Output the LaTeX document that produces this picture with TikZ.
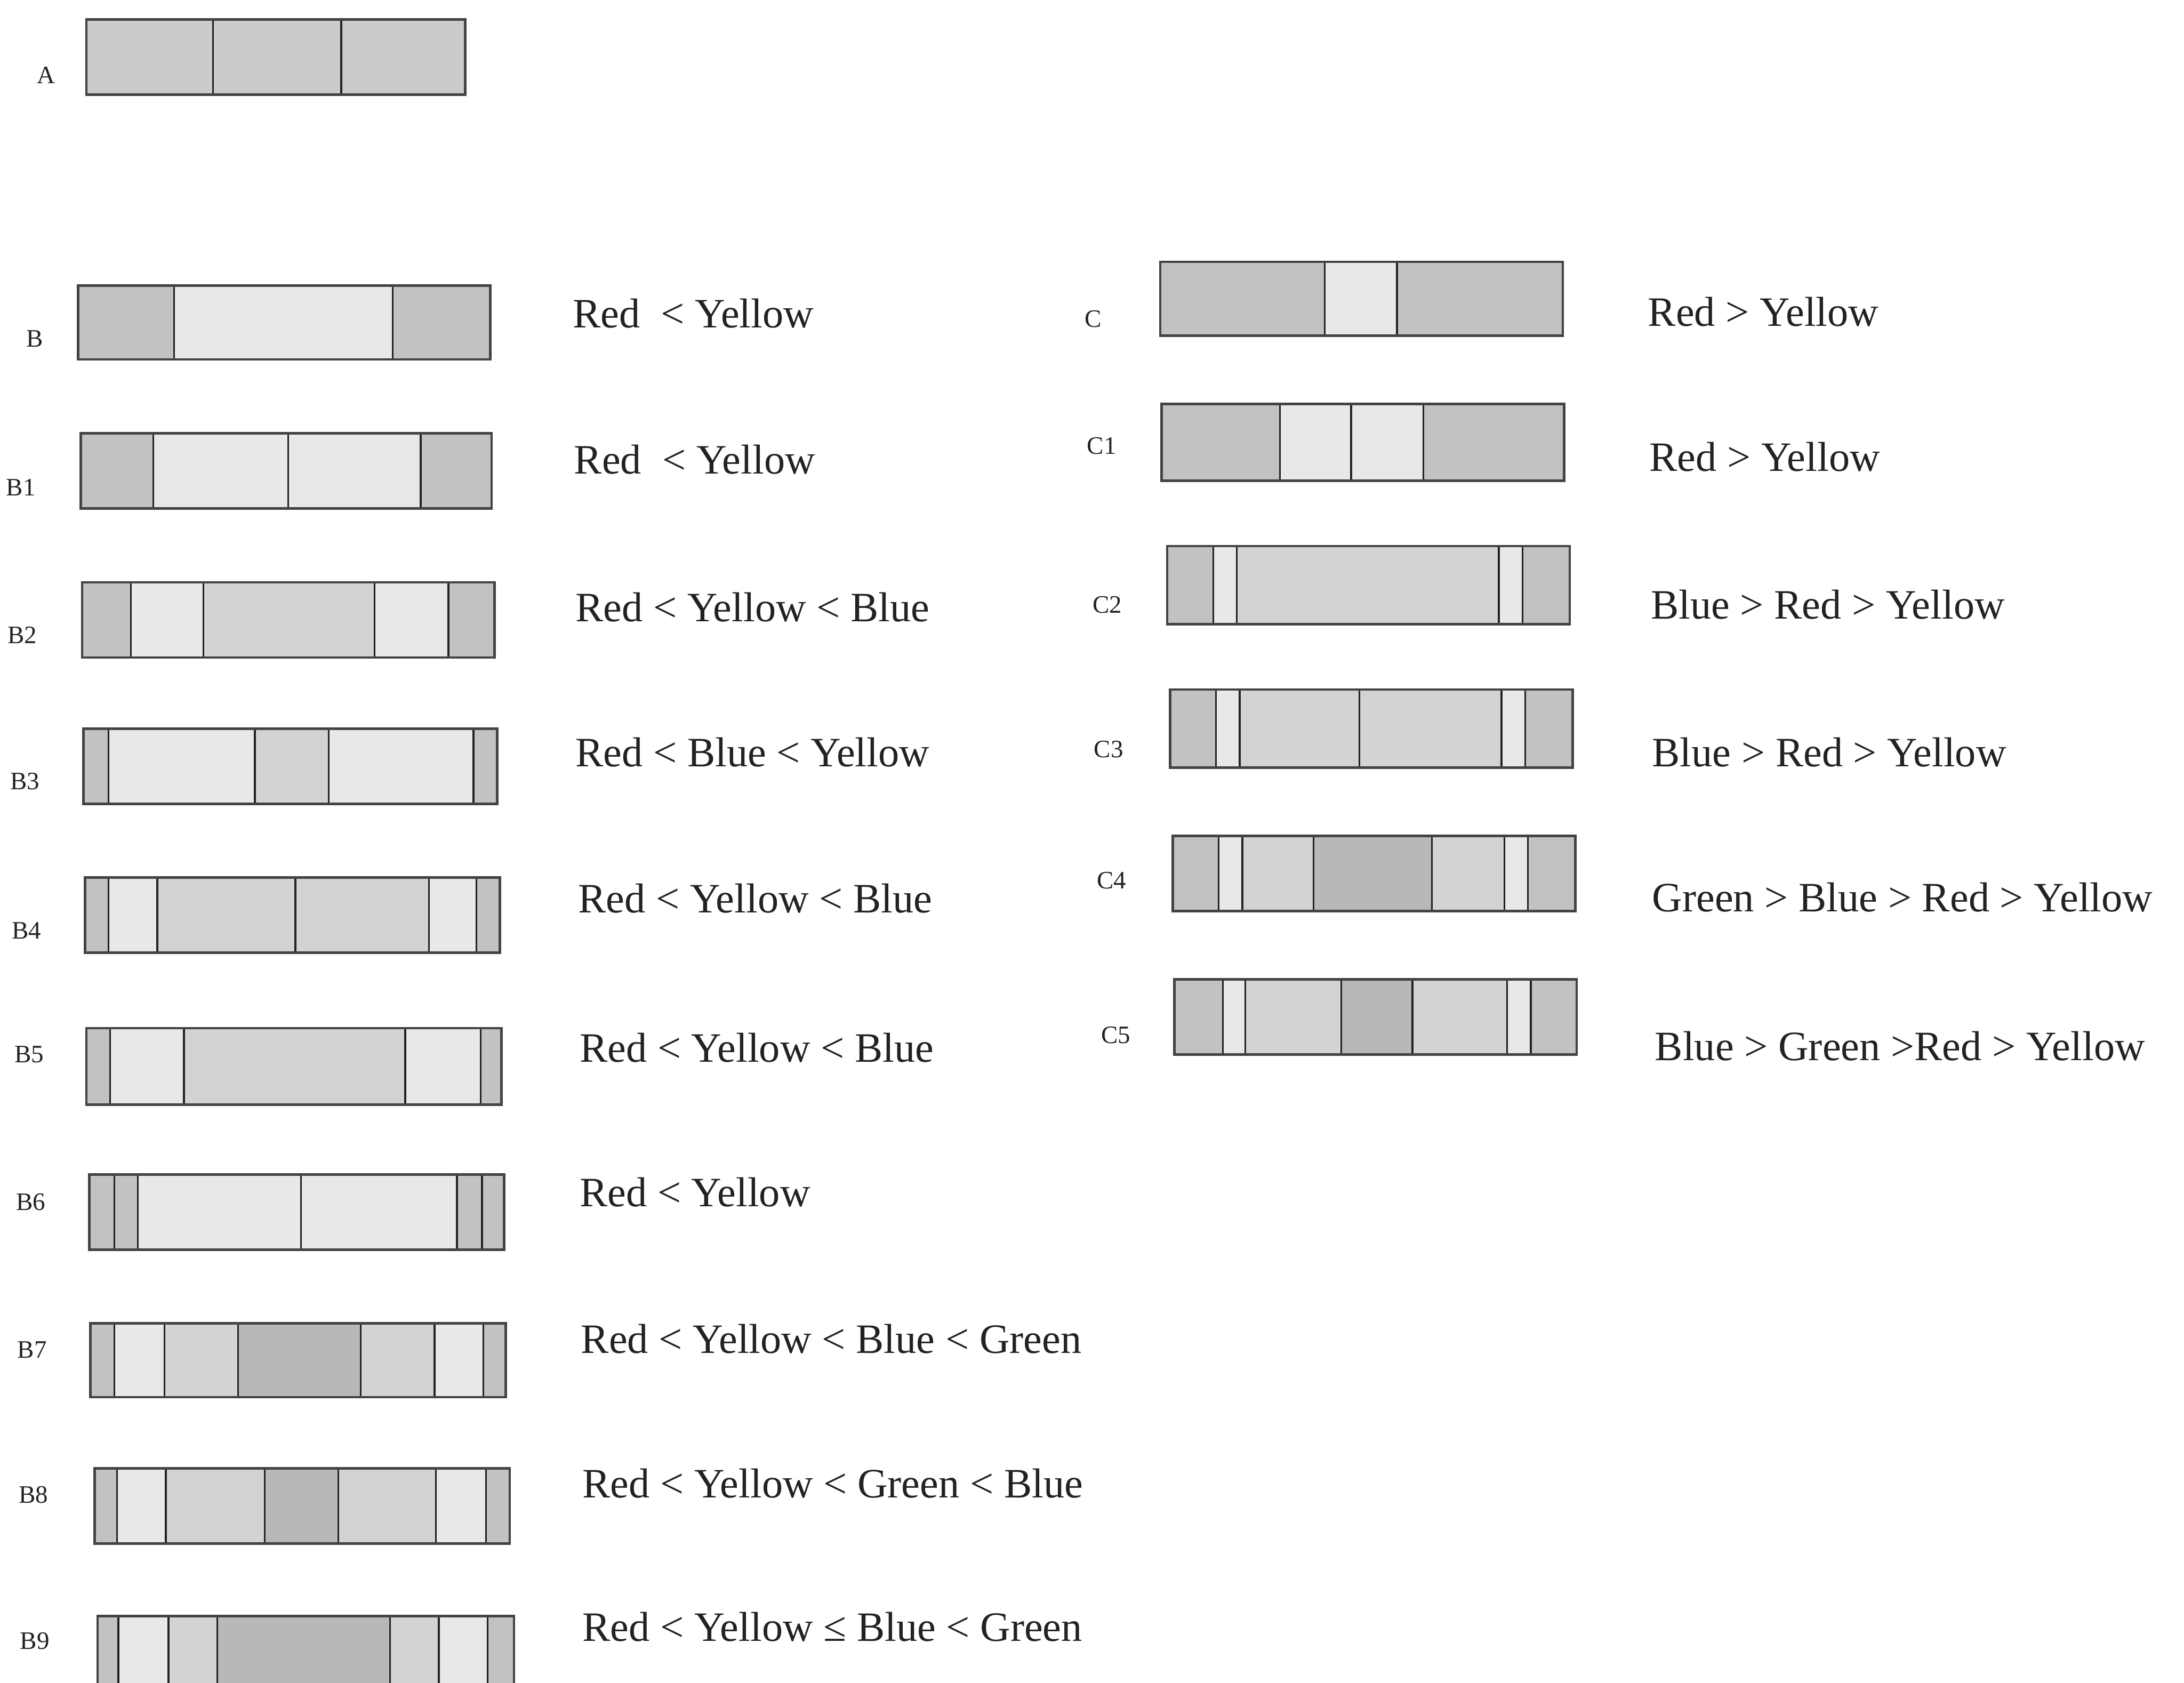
\documentclass[tikz,border=0pt]{standalone}
\usepackage{fontspec}
\setmainfont{Liberation Serif}
\definecolor{cA}{HTML}{CBCBCB}
\definecolor{cR}{HTML}{C2C2C2}
\definecolor{cY}{HTML}{E8E8E8}
\definecolor{cB}{HTML}{D3D3D3}
\definecolor{cG}{HTML}{B8B8B8}
\definecolor{ink}{HTML}{222222}
\tikzset{
  outl/.style={draw=ink!85, line width=1.8pt},
  divl/.style={draw=ink, line width=1.3pt},
  tag/.style={anchor=center, inner sep=0pt, text=ink, font=\fontsize{18}{21}\selectfont},
  rel/.style={anchor=west, inner sep=0pt, text=ink, font=\fontsize{30}{34}\selectfont}
}
% #1 top, #2 bottom, #3 left end, #4 right end, #5 segments x1/x2/colour
\newcommand\segbar[5]{%
  \foreach \sa/\sb/\sc in {#5} {\fill[\sc] (\sa,#1) rectangle (\sb,#2);}
  \foreach \sa/\sb/\sc in {#5} {\draw[divl] (\sa,#1) -- (\sa,#2);}
  \draw[outl] (#3,#1) rectangle (#4,#2);
}
\begin{document}
\begin{tikzpicture}[x=1pt,y=-1pt]
\useasboundingbox (0,0) rectangle (1568,1208);
\clip (0,0) rectangle (1568,1208);
\fill[white] (0,0) rectangle (1568,1208);

% ---------- bars ----------
\segbar{14}{68}{62}{334}{62/153/cA,153/245/cA,245/334/cA}
\segbar{205}{258}{56}{352}{56/125/cR,125/282/cY,282/352/cR}
\segbar{311}{365}{58}{353}{58/110/cR,110/207/cY,207/302/cY,302/353/cR}
\segbar{418}{472}{59}{355}{59/94/cR,94/146/cY,146/269/cB,269/322/cY,322/355/cR}
\segbar{523}{577}{60}{357}{60/78/cR,78/183/cY,183/236/cB,236/340/cY,340/357/cR}
\segbar{630}{684}{61}{359}{61/78/cR,78/113/cY,113/212/cB,212/308/cB,308/342/cY,342/359/cR}
\segbar{738}{793}{62}{360}{62/79/cR,79/132/cY,132/291/cB,291/345/cY,345/360/cR}
\segbar{843}{897}{64}{362}{64/82/cR,82/99/cR,99/216/cY,216/328/cY,328/346/cR,346/362/cR}
\segbar{950}{1003}{65}{363}{65/82/cR,82/118/cY,118/171/cB,171/259/cG,259/312/cB,312/347/cY,347/363/cR}
\segbar{1054}{1108}{68}{366}{68/84/cR,84/119/cY,119/190/cB,190/243/cG,243/313/cB,313/349/cY,349/366/cR}
\segbar{1160}{1215}{70}{369}{70/85/cR,85/121/cY,121/156/cB,156/280/cG,280/315/cB,315/350/cY,350/369/cR}

\segbar{188}{241}{833}{1122}{833/951/cR,951/1003/cY,1003/1122/cR}
\segbar{290}{345}{834}{1123}{834/919/cR,919/970/cY,970/1022/cY,1022/1123/cR}
\segbar{392}{448}{838}{1127}{838/871/cR,871/888/cY,888/1076/cB,1076/1093/cY,1093/1127/cR}
\segbar{495}{551}{840}{1129}{840/873/cR,873/890/cY,890/976/cB,976/1078/cB,1078/1095/cY,1095/1129/cR}
\segbar{600}{654}{842}{1131}{842/875/cR,875/892/cY,892/943/cB,943/1028/cG,1028/1080/cB,1080/1097/cY,1097/1131/cR}
\segbar{703}{757}{843}{1132}{843/878/cR,878/894/cY,894/963/cB,963/1014/cG,1014/1082/cB,1082/1099/cY,1099/1132/cR}

% ---------- bar labels ----------
\node[tag] (lA)  at (33,54)   {A};
\node[tag] (lB)  at (25,243)  {B};
\node[tag] (lB1) at (15,350)  {B1};
\node[tag] (lB2) at (16,456)  {B2};
\node[tag] (lB3) at (18,561)  {B3};
\node[tag] (lB4) at (19,668)  {B4};
\node[tag] (lB5) at (21,757)  {B5};
\node[tag] (lB6) at (22,863)  {B6};
\node[tag] (lB7) at (23,969)  {B7};
\node[tag] (lB8) at (24,1073) {B8};
\node[tag] (lB9) at (25,1178) {B9};
\node[tag] (lC)  at (785,229) {C};
\node[tag] (lC1) at (791,320) {C1};
\node[tag] (lC2) at (795,434) {C2};
\node[tag] (lC3) at (796,538) {C3};
\node[tag] (lC4) at (798,632) {C4};
\node[tag] (lC5) at (801,743) {C5};

% ---------- relations ----------
\node[rel] (tB)  at (411,225)  {Red\ \ < Yellow};
\node[rel] (tB1) at (412,330)  {Red\ \ < Yellow};
\node[rel] (tB2) at (413,436)  {Red < Yellow < Blue};
\node[rel] (tB3) at (413,540)  {Red < Blue < Yellow};
\node[rel] (tB4) at (415,645)  {Red < Yellow < Blue};
\node[rel] (tB5) at (416,752)  {Red < Yellow < Blue};
\node[rel] (tB6) at (416,856)  {Red < Yellow};
\node[rel] (tB7) at (417,961)  {Red < Yellow < Blue < Green};
\node[rel] (tB8) at (418,1065) {Red < Yellow < Green < Blue};
\node[rel] (tB9) at (418,1168) {Red < Yellow ≤ Blue < Green};
\node[rel] (tC)  at (1183,224) {Red > Yellow};
\node[rel] (tC1) at (1184,328) {Red > Yellow};
\node[rel] (tC2) at (1185,434) {Blue > Red > Yellow};
\node[rel] (tC3) at (1186,540) {Blue > Red > Yellow};
\node[rel] (tC4) at (1186,644) {Green > Blue > Red > Yellow};
\node[rel] (tC5) at (1188,751) {Blue > Green >Red > Yellow};
\end{tikzpicture}
\end{document}
